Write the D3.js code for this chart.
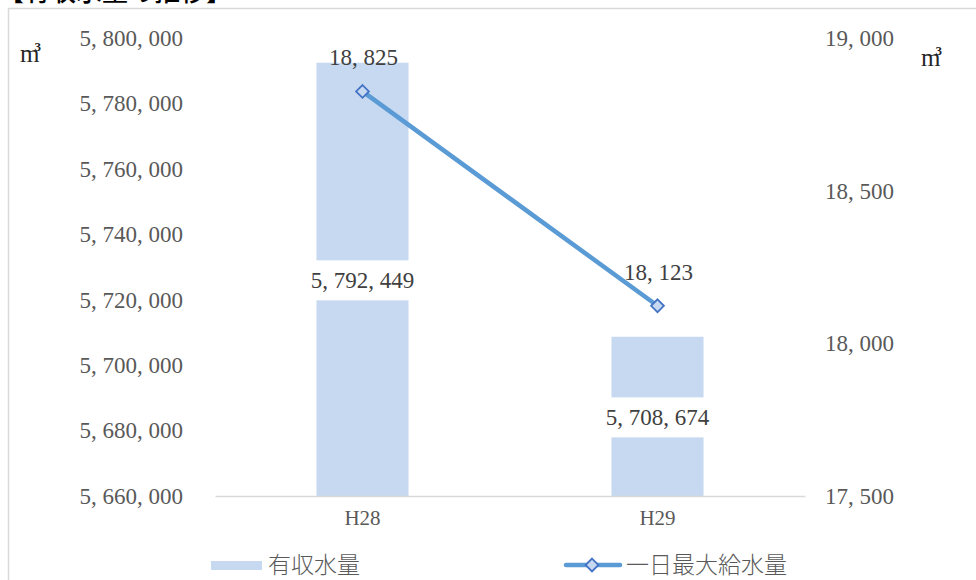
<!DOCTYPE html>
<html>
<head>
<meta charset="utf-8">
<script src="https://cdn.jsdelivr.net/npm/d3@7"></script>
<style>
  html, body { margin: 0; padding: 0; background: #fff; }
  svg { display: block; }
</style>
</head>
<body>
<svg id="chart" width="976" height="580"></svg>
<script>
// Annual billed water volume (bars, left axis) and peak daily supply (line, right axis)
const categories = ["H28", "H29"];
const billedVolume = [5792449, 5708674];
const peakDailySupply = [18825, 18123];
const leftTicks = [5660000, 5680000, 5700000, 5720000, 5740000, 5760000, 5780000, 5800000];
const rightTicks = [17500, 18000, 18500, 19000];
const seriesNames = ["有収水量", "一日最大給水量"];
const titleText = "【有収水量の推移】";

const svg = d3.select("#chart");
const serif = "'Liberation Serif', 'DejaVu Serif', serif";
const cjk = "'Noto Sans CJK JP', sans-serif";
const barColor = "#c6d9f0";
const lineColor = "#5b9bd5";
const markerStroke = "#4472c4";
const textGrey = "#595959";

const plot = { left: 215, right: 805, top: 38, bottom: 496 };

const x = d3.scaleBand().domain(categories)
  .range([plot.left, plot.right]).paddingInner(0.688).paddingOuter(0.344);
const yL = d3.scaleLinear().domain([5660000, 5800000]).range([plot.bottom, plot.top]);
const yR = d3.scaleLinear().domain([17500, 19000]).range([plot.bottom, plot.top]);

const fmt = v => d3.format(",")(v).replace(/,/g, ", ");

// chart frame
svg.append("rect").attr("x", 8.5).attr("y", 8.5).attr("width", 1000).attr("height", 1000)
  .attr("fill", "none").attr("stroke", "#d9d9d9").attr("stroke-width", 1.5);

// title, partly above the frame
svg.append("text").attr("x", -2).attr("y", 1)
  .attr("font-family", cjk).attr("font-size", 26).attr("font-weight", 500)
  .attr("fill", "#000").text(titleText);

// left axis
const leftAxis = svg.append("g").attr("transform", `translate(${plot.left},0)`)
  .call(d3.axisLeft(yL).tickValues(leftTicks).tickFormat(fmt).tickSize(0).tickPadding(32));
leftAxis.select(".domain").remove();
leftAxis.selectAll("text").attr("font-family", serif).attr("font-size", 23).attr("fill", textGrey);

// right axis
const rightAxis = svg.append("g").attr("transform", `translate(${plot.right},0)`)
  .call(d3.axisRight(yR).tickValues(rightTicks).tickFormat(fmt).tickSize(0).tickPadding(20));
rightAxis.select(".domain").remove();
rightAxis.selectAll("text").attr("font-family", serif).attr("font-size", 23).attr("fill", textGrey);

// bars
svg.append("g").selectAll("rect").data(categories).join("rect")
  .attr("x", d => x(d))
  .attr("y", (d, i) => yL(billedVolume[i]))
  .attr("width", x.bandwidth())
  .attr("height", (d, i) => yL(5660000) - yL(billedVolume[i]))
  .attr("fill", barColor);

// category axis
const bottomAxis = svg.append("g").attr("transform", `translate(0,${plot.bottom})`)
  .call(d3.axisBottom(x).tickSize(0).tickPadding(14));
bottomAxis.select(".domain").attr("stroke", "#d9d9d9").attr("stroke-width", 1.5);
bottomAxis.selectAll("text").attr("font-family", serif).attr("font-size", 21).attr("fill", textGrey);

// bar value labels, centred in the bar on a white box
const barLabels = svg.append("g");
categories.forEach((c, i) => {
  const cx = x(c) + x.bandwidth() / 2;
  const cy = (yL(billedVolume[i]) + yL(5660000)) / 2 + 1;
  const g = barLabels.append("g");
  const t = g.append("text").attr("x", cx).attr("y", cy)
    .attr("text-anchor", "middle").attr("dominant-baseline", "central")
    .attr("font-family", serif).attr("font-size", 23).attr("fill", "#404040")
    .text(fmt(billedVolume[i]));
  const bb = t.node().getBBox();
  g.insert("rect", "text").attr("x", bb.x - 6).attr("y", cy - 20)
    .attr("width", bb.width + 12).attr("height", 40).attr("fill", "#fff");
});

// line series
const pts = categories.map((c, i) => [x(c) + x.bandwidth() / 2, yR(peakDailySupply[i])]);
svg.append("path").datum(pts)
  .attr("d", d3.line())
  .attr("fill", "none").attr("stroke", lineColor).attr("stroke-width", 4.5)
  .attr("stroke-linecap", "round");

const diamond = d3.symbol().type(d3.symbolDiamond2).size(105);
svg.append("g").selectAll("path").data(pts).join("path")
  .attr("transform", d => `translate(${d[0]},${d[1]})`)
  .attr("d", diamond)
  .attr("fill", barColor).attr("stroke", markerStroke).attr("stroke-width", 1.8);

// line value labels above the markers
svg.append("g").selectAll("text").data(pts).join("text")
  .attr("x", d => d[0] + 1).attr("y", d => d[1] - 26)
  .attr("text-anchor", "middle")
  .attr("font-family", serif).attr("font-size", 23).attr("fill", "#404040")
  .text((d, i) => fmt(peakDailySupply[i]));

// unit labels (m with superscript 3)
function unit(xPos, yPos) {
  const t = svg.append("text").attr("x", xPos).attr("y", yPos)
    .attr("font-family", serif).attr("font-size", 25).attr("fill", "#262626");
  t.append("tspan").text("m");
  t.append("tspan").attr("font-size", 13).attr("font-weight", "bold")
    .attr("dy", -11).attr("dx", -5).text("3");
}
unit(20, 62);
unit(921, 66);

// legend
const legendY = 565;
svg.append("rect").attr("x", 211).attr("y", legendY - 4).attr("width", 51).attr("height", 9)
  .attr("fill", barColor);
svg.append("text").attr("x", 268).attr("y", legendY + 8)
  .attr("font-family", cjk).attr("font-size", 23).attr("font-weight", 300)
  .attr("fill", textGrey).text(seriesNames[0]);
svg.append("line").attr("x1", 566).attr("x2", 620).attr("y1", legendY).attr("y2", legendY)
  .attr("stroke", lineColor).attr("stroke-width", 4.5).attr("stroke-linecap", "round");
svg.append("path").attr("transform", `translate(592,${legendY})`).attr("d", diamond)
  .attr("fill", barColor).attr("stroke", markerStroke).attr("stroke-width", 1.8);
svg.append("text").attr("x", 626).attr("y", legendY + 8)
  .attr("font-family", cjk).attr("font-size", 23).attr("font-weight", 300)
  .attr("fill", textGrey).text(seriesNames[1]);
</script>
</body>
</html>
